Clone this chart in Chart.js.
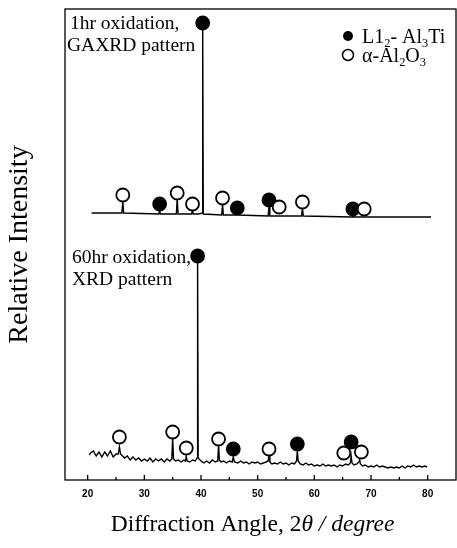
<!DOCTYPE html>
<html>
<head>
<meta charset="utf-8">
<script src="https://cdn.jsdelivr.net/npm/chart.js@4.4.0/dist/chart.umd.min.js"></script>
<style>
  html, body { margin: 0; padding: 0; background: #fff; }
</style>
</head>
<body>
<canvas id="xrdChart" width="457" height="548"></canvas>
<script>
// 2-theta tick marks (labels only on the tens)
const xTicks = [20, 25, 30, 35, 40, 45, 50, 55, 60, 65, 70, 75, 80];

// 1hr oxidation, GAXRD pattern (upper trace, arbitrary offset units)
const angles1 = [20.7, 26.05, 26.2, 26.35, 32.55, 32.7, 32.85, 35.65, 35.8, 35.95, 38.35, 38.5, 38.65,
  39.6, 40.2, 40.3, 40.4, 43.65, 43.8, 43.95, 46.25, 46.4, 46.55, 51.85, 52.0, 52.15,
  57.75, 57.9, 58.05, 66.65, 66.8, 66.95, 80.6];
const intensity1 = [267, 267, 279, 267, 266, 269, 266, 266, 281, 266, 266, 270, 266,
  266, 267, 453, 266, 265, 276, 265, 265, 267, 265, 264, 274, 264,
  264, 272, 264, 263, 266, 263, 263];

// 60hr oxidation, XRD pattern (lower trace)
const angles2 = [20.3, 20.5, 21, 21.5, 22, 22.5, 23, 23.5, 24, 24.5, 25, 25.4, 25.6, 25.8, 26.5, 27, 27.5,
  28, 28.5, 29, 29.5, 30, 30.5, 31, 31.5, 32, 32.5, 33, 33.5, 34, 34.5, 34.85, 35.0, 35.15, 35.5,
  36, 36.5, 37, 37.25, 37.4, 37.55, 38, 38.5, 39, 39.3, 39.4, 39.5, 40, 40.5, 41, 41.5, 42, 42.5,
  42.95, 43.1, 43.25, 43.5, 44, 44.5, 45, 45.5, 45.7, 45.9, 46.5, 47, 47.5, 48, 48.5, 49, 49.5,
  50, 50.5, 51, 51.5, 51.85, 52.0, 52.15, 52.5, 53, 53.5, 54, 54.5, 55, 55.5, 56, 56.5, 56.85,
  57.0, 57.15, 57.5, 58, 58.5, 59, 59.5, 60, 60.5, 61, 61.5, 62, 62.5, 63, 63.5, 64, 64.5, 65,
  65.5, 66, 66.35, 66.5, 66.65, 67, 67.5, 67.85, 68.0, 68.15, 68.5, 69, 69.5, 70, 70.5, 71,
  71.5, 72, 72.5, 73, 73.5, 74, 74.5, 75, 75.5, 76, 76.5, 77, 77.5, 78, 78.5, 79, 79.5, 79.9];
const intensity2 = [25, 27, 29, 24, 28, 23, 28, 24, 29, 23, 26, 26, 33, 26, 22, 24, 20,
  23, 20, 22, 19, 21, 19, 22, 18, 21, 19, 21, 18, 21, 19, 21, 42, 21, 19,
  20, 18, 20, 19, 24, 19, 18, 20, 19, 22, 219, 22, 19, 17, 19, 17, 20, 18,
  19, 35, 20, 18, 19, 17, 19, 18, 23, 18, 17, 19, 17, 18, 16, 18, 17,
  18, 16, 17, 18, 19, 25, 18, 16, 17, 16, 18, 16, 17, 15, 17, 16, 19,
  29, 19, 16, 15, 17, 15, 16, 14, 15, 14, 16, 14, 15, 14, 15, 13, 15, 14,
  16, 15, 17, 24, 17, 15, 16, 18, 20, 16, 14, 15, 13, 14, 13, 15,
  13, 14, 13, 12, 13, 12, 13, 12, 14, 12, 14, 13, 15, 13, 14, 13, 14, 13];

// peak markers: L1_2-Al3Ti (filled) and alpha-Al2O3 (open)
const al3tiAngles1 = [32.7, 40.3, 46.4, 52.0, 66.8];
const al3tiMarks1 = [276, 457, 272, 280, 271];
const al2o3Angles1 = [26.2, 35.8, 38.5, 43.8, 53.8, 57.9, 68.8];
const al2o3Marks1 = [285, 287, 276, 282, 273, 278, 271];
const al3tiAngles2 = [39.4, 45.7, 57.0, 66.5];
const al3tiMarks2 = [224, 31, 36, 38];
const al2o3Angles2 = [25.6, 35.0, 37.4, 43.1, 52.0, 65.2, 68.3];
const al2o3Marks2 = [43, 48, 32, 41, 31, 27, 28];

const serif = "'Liberation Serif', 'Times New Roman', serif";

function pts(xs, ys) {
  return xs.map((v, i) => ({ x: v, y: ys[i] }));
}

function markerSet(xs, ys, filled) {
  return {
    type: 'scatter',
    data: pts(xs, ys),
    showLine: false,
    pointStyle: 'circle',
    pointRadius: 6.5,
    pointBorderWidth: 1.8,
    pointBorderColor: '#000',
    pointBackgroundColor: filled ? '#000' : '#fff'
  };
}

function traceSet(xs, ys) {
  return {
    type: 'line',
    data: pts(xs, ys),
    borderColor: '#000',
    borderWidth: 1.4,
    pointRadius: 0,
    tension: 0,
    fill: false
  };
}

function drawRich(ctx, x, y, parts, size) {
  parts.forEach(p => {
    const s = p.sub ? size * 0.62 : size;
    ctx.font = (p.it ? 'italic ' : '') + s + 'px ' + serif;
    ctx.fillText(p.t, x, y + (p.sub ? size * 0.22 : 0));
    x += ctx.measureText(p.t).width;
  });
  return x;
}

function richWidth(ctx, parts, size) {
  let w = 0;
  parts.forEach(p => {
    const s = p.sub ? size * 0.62 : size;
    ctx.font = (p.it ? 'italic ' : '') + s + 'px ' + serif;
    w += ctx.measureText(p.t).width;
  });
  return w;
}

const decorPlugin = {
  id: 'decor',
  afterDraw(chart) {
    const ctx = chart.ctx;
    const a = chart.chartArea;
    const x = chart.scales.x;
    ctx.save();
    ctx.strokeStyle = '#000';
    ctx.lineWidth = 1.3;
    ctx.strokeRect(a.left, a.top, a.right - a.left, a.bottom - a.top);

    // inward ticks on the bottom axis
    x.ticks.forEach(t => {
      const px = x.getPixelForValue(t.value);
      const len = t.value % 10 === 0 ? 5 : 3;
      ctx.beginPath();
      ctx.moveTo(px, a.bottom);
      ctx.lineTo(px, a.bottom - len);
      ctx.stroke();
    });

    ctx.fillStyle = '#000';
    ctx.textBaseline = 'alphabetic';
    ctx.textAlign = 'left';

    // pattern labels
    ctx.font = '19.5px ' + serif;
    ctx.fillText('1hr oxidation,', 70, 29);
    ctx.fillText('GAXRD pattern', 67, 51);
    ctx.fillText('60hr oxidation,', 72, 263);
    ctx.fillText('XRD pattern', 72, 285);

    // legend
    ctx.beginPath();
    ctx.arc(348, 36, 5, 0, Math.PI * 2);
    ctx.fill();
    ctx.beginPath();
    ctx.lineWidth = 1.5;
    ctx.arc(348, 55, 5.5, 0, Math.PI * 2);
    ctx.stroke();
    drawRich(ctx, 362, 43, [{ t: 'L1' }, { t: '2', sub: true }, { t: '- Al' }, { t: '3', sub: true }, { t: 'Ti' }], 20);
    drawRich(ctx, 362, 62, [{ t: 'α-Al' }, { t: '2', sub: true }, { t: 'O' }, { t: '3', sub: true }], 20);

    // x axis title
    const title = [{ t: 'Diffraction Angle, 2' }, { t: 'θ', it: true }, { t: ' / ', it: true }, { t: 'degree', it: true }];
    const w = richWidth(ctx, title, 23.5);
    drawRich(ctx, (a.left + a.right) / 2 - 8 - w / 2, 531, title, 23.5);
    ctx.restore();
  }
};

const ctx = document.getElementById('xrdChart').getContext('2d');
new Chart(ctx, {
  type: 'line',
  data: {
    datasets: [
      markerSet(al2o3Angles1, al2o3Marks1, false),
      markerSet(al2o3Angles2, al2o3Marks2, false),
      markerSet(al3tiAngles1, al3tiMarks1, true),
      markerSet(al3tiAngles2, al3tiMarks2, true),
      traceSet(angles1, intensity1),
      traceSet(angles2, intensity2)
    ]
  },
  options: {
    responsive: false,
    animation: false,
    layout: { autoPadding: false, padding: { top: 9, right: 1, left: 0, bottom: 0 } },
    plugins: { legend: { display: false }, tooltip: { enabled: false } },
    scales: {
      x: {
        type: 'linear',
        min: 16,
        max: 85,
        grid: { display: false, drawTicks: false },
        border: { display: false },
        afterBuildTicks: s => { s.ticks = xTicks.map(v => ({ value: v })); },
        afterFit: s => { s.height = 68; s.paddingLeft = 0; s.paddingRight = 0; },
        ticks: {
          autoSkip: false,
          maxRotation: 0,
          padding: 8,
          color: '#000',
          font: { family: "'Liberation Sans', Arial, sans-serif", size: 10, weight: 'bold' },
          callback: v => (v % 10 === 0 ? String(v) : '')
        }
      },
      y: {
        type: 'linear',
        min: 0,
        max: 471,
        grid: { display: false, drawTicks: false },
        border: { display: false },
        ticks: { display: false },
        afterFit: s => { s.width = 65; s.paddingTop = 0; s.paddingBottom = 0; },
        title: {
          display: true,
          text: 'Relative Intensity',
          color: '#000',
          font: { family: serif, size: 28 },
          padding: { top: 3, bottom: 0 }
        }
      }
    }
  },
  plugins: [decorPlugin]
});
</script>
</body>
</html>
